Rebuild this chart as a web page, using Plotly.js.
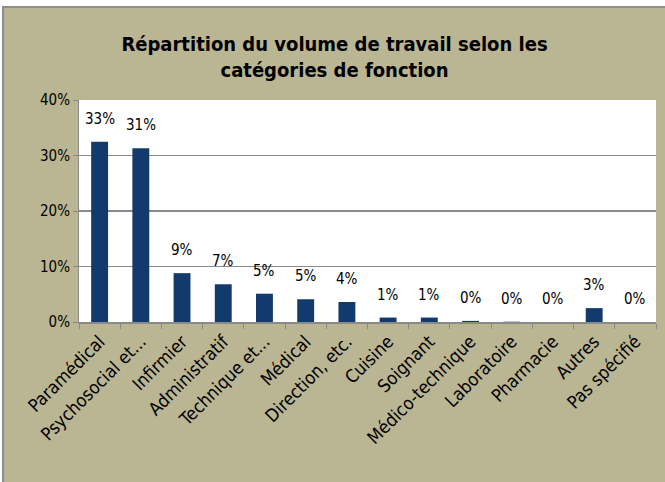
<!DOCTYPE html>
<html>
<head>
<meta charset="utf-8">
<script src="https://cdn.plot.ly/plotly-3.0.1.min.js"></script>
<style>
  html, body { margin: 0; padding: 0; background: #ffffff; overflow: hidden; }
  #chart { position: absolute; left: 2px; top: 6px; width: 661px; height: 474px;
           border-top: 2px solid #8e8e8e; border-left: 2px solid #8e8e8e; }
</style>
</head>
<body>
<div id="chart"></div>
<script>
const categories = ["Paramédical", "Psychosocial et...", "Infirmier", "Administratif", "Technique et...",
  "Médical", "Direction, etc.", "Cuisine", "Soignant", "Médico-technique", "Laboratoire",
  "Pharmacie", "Autres", "Pas spécifié"];
const values = [0.325, 0.313, 0.088, 0.068, 0.051, 0.041, 0.036, 0.008, 0.008, 0.002, 0.0005, 0, 0.025, 0];
const valueLabels = ["33%", "31%", "9%", "7%", "5%", "5%", "4%", "1%", "1%", "0%", "0%", "0%", "3%", "0%"];
const yTicks = [0, 0.1, 0.2, 0.3, 0.4];

const FONT = "'DejaVu Sans Condensed', 'DejaVu Sans', sans-serif";

const trace = {
  type: "bar",
  x: categories,
  y: values,
  marker: { color: "#123a6d", line: { width: 0 } },
  hoverinfo: "none"
};

const annotations = categories.map((c, i) => ({
  x: c, y: values[i], xref: "x", yref: "y",
  text: valueLabels[i], showarrow: false,
  yanchor: "bottom", yshift: 12,
  font: { family: FONT, size: 15, color: "#000000" }
}));

const layout = {
  width: 661, height: 474,
  paper_bgcolor: "#bab592",
  plot_bgcolor: "#ffffff",
  margin: { l: 75, r: 9, t: 92, b: 160 },
  showlegend: false,
  bargap: 0.59,
  title: {
    text: "<b>Répartition du volume de travail selon les<br>catégories de fonction</b>",
    font: { family: FONT, size: 20, color: "#000000" },
    x: 0.5, xanchor: "center",
    y: 1 - 43 / 474, yanchor: "top", yref: "container"
  },
  xaxis: {
    type: "category",
    tickangle: -45,
    tickson: "boundaries",
    ticks: "outside", ticklen: 5, tickcolor: "#8a8a8a", tickwidth: 1,
    showline: true, linecolor: "#8a8a8a", linewidth: 2,
    showgrid: false,
    tickfont: { family: FONT, size: 18, color: "#000000" },
    fixedrange: true
  },
  yaxis: {
    range: [0, 0.4],
    tickvals: yTicks,
    tickformat: ".0%",
    showgrid: true, gridcolor: "#8a8a8a", gridwidth: 1.5,
    ticks: "outside", ticklen: 5, tickcolor: "#8a8a8a",
    showline: true, linecolor: "#8a8a8a", linewidth: 1,
    zeroline: false,
    tickfont: { family: FONT, size: 15, color: "#000000" },
    fixedrange: true
  },
  annotations: annotations
};

Plotly.newPlot("chart", [trace], layout, { displayModeBar: false, staticPlot: true });
</script>
</body>
</html>
